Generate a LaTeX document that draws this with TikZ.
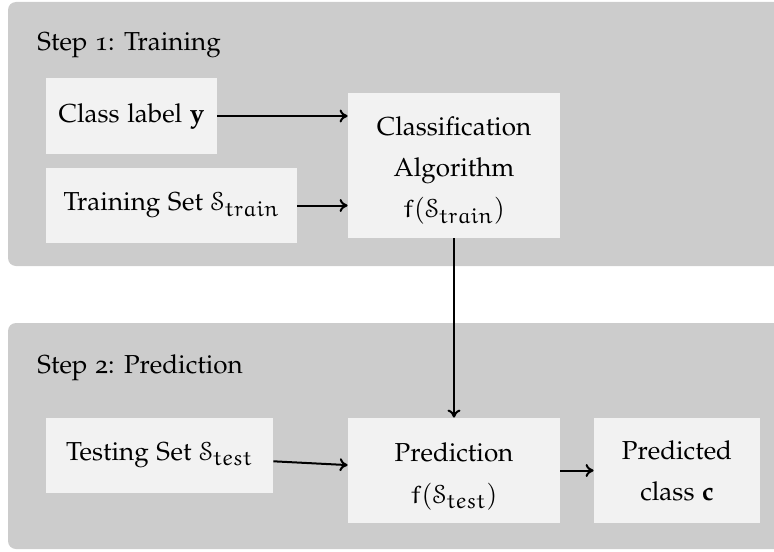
\documentclass[tikz,border=0pt]{standalone}
\usepackage[T1]{fontenc}
\usepackage[osf]{mathpazo}
\usepackage[mathcal]{euscript}
\DeclareMathAlphabet{\mathEu}{U}{eur}{m}{n}
\DeclareMathSizes{13}{13}{10.8}{8}
\usetikzlibrary{arrows.meta}
\definecolor{panelc}{HTML}{CCCCCC}
\definecolor{boxc}{HTML}{F2F2F2}
\newcommand{\topstrut}{\rule{0pt}{14.5pt}}
\begin{document}
\begin{tikzpicture}[x=0.5pt,y=-0.5pt,
  font=\fontsize{13}{15.6}\selectfont,
  panel/.style={fill=panelc, rounded corners=4pt},
  box/.style={fill=boxc, inner sep=0pt, align=center},
  title/.style={anchor=base west, inner sep=0pt},
  arr/.style={-{To[length=4pt,width=6.5pt]}, line width=1pt}]
\useasboundingbox (0,0) rectangle (774,551);
\fill[panel] (8,2) rectangle (800,266);
\fill[panel] (8,323) rectangle (800,549);
\node[title] (s1) at (37,51) {Step 1: Training};
\node[title] (s2) at (37,373) {Step 2: Prediction};
\node[box, minimum width=85.5pt, minimum height=38pt] (cls) at (131.5,116) {Class label \textbf{y}};
\node[box, minimum width=125.5pt, minimum height=37.5pt] (trn) at (171.5,205.5) {Training Set $\mathcal{S}_{\mathEu{train}}$};
\node[box, minimum width=106pt, minimum height=72.5pt] (alg) at (454,165.5) {\topstrut Classification\\[5pt]Algorithm\\[5pt]$\mathEu{f}(\mathcal{S}_{\mathEu{train}})$};
\node[box, minimum width=113.5pt, minimum height=37.5pt] (tst) at (159.5,455.5) {Testing Set $\mathcal{S}_{\mathEu{test}}$};
\node[box, minimum width=106pt, minimum height=52.5pt] (pred) at (454,470.5) {\rule{0pt}{15.5pt}Prediction\\[5.5pt]$\mathEu{f}(\mathcal{S}_{\mathEu{test}})$};
\node[box, minimum width=83pt, minimum height=52.5pt] (out) at (677,470.5) {Predicted\\[5pt]class \textbf{c}};
\draw[arr] (cls.east) -- (cls.east -| alg.west);
\draw[arr] (trn.east) -- (trn.east -| alg.west);
\draw[arr] (alg) -- (pred);
\draw[arr] (tst) -- (pred);
\draw[arr] (pred) -- (out);
\end{tikzpicture}
\end{document}
